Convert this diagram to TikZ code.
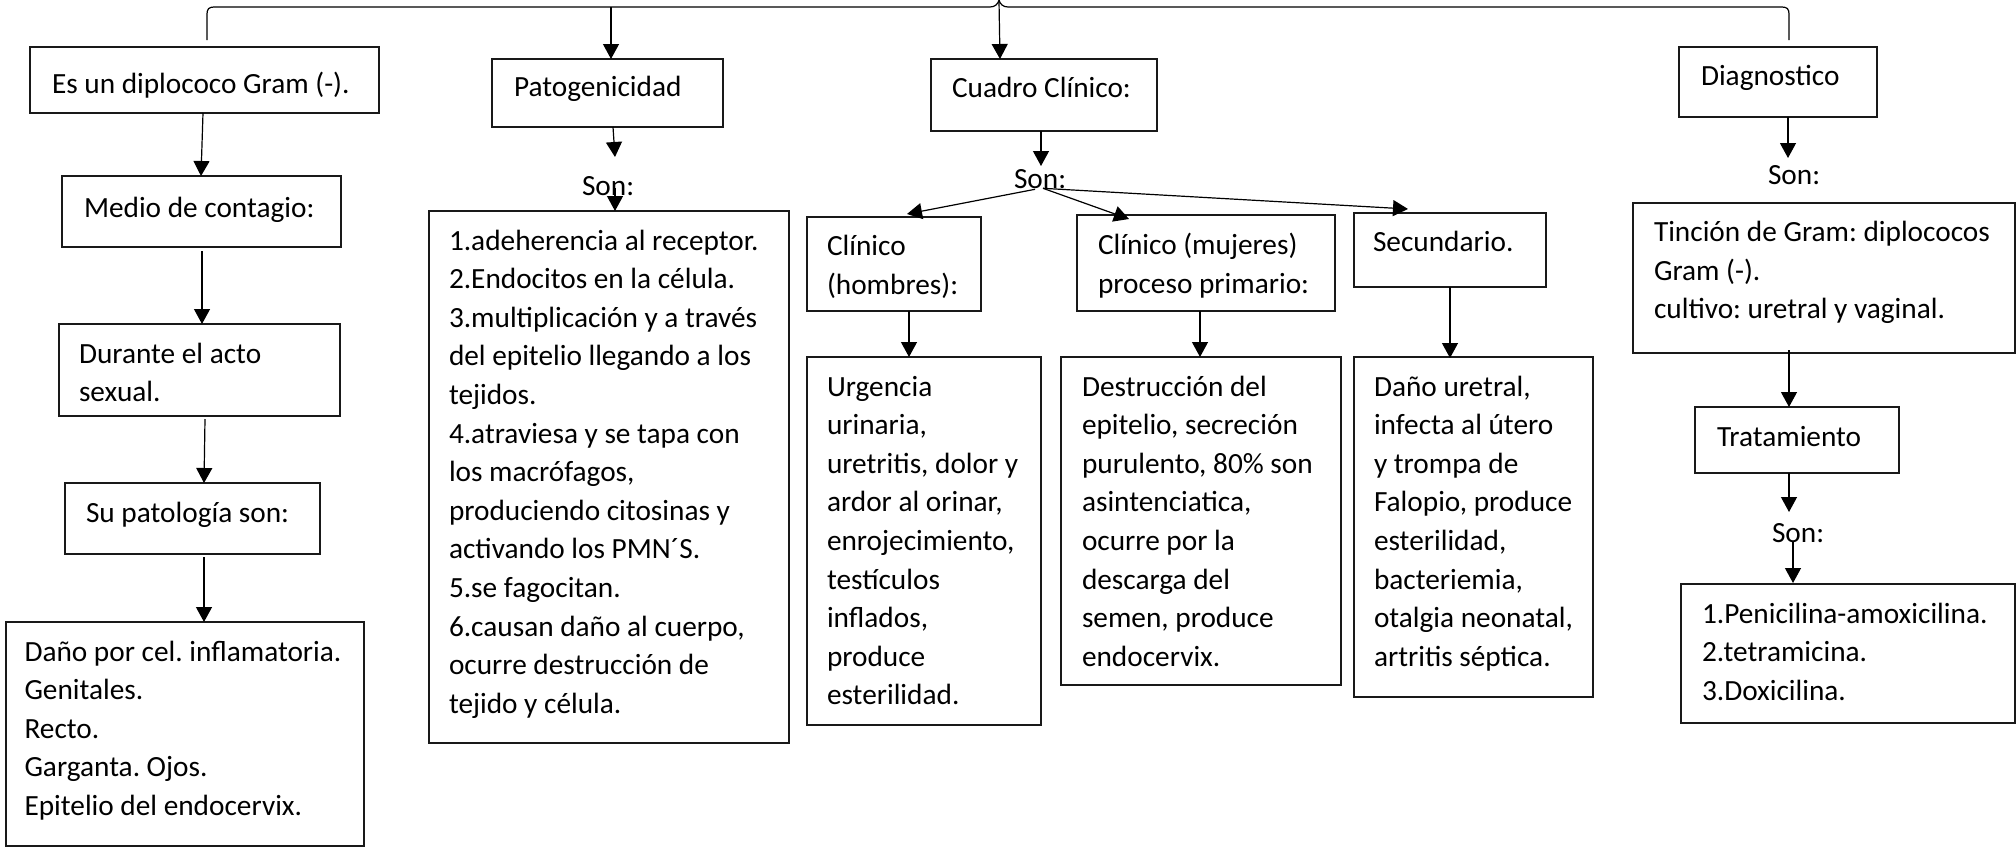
\documentclass[tikz,border=0pt]{standalone}
\usepackage{fontspec}
\setmainfont{Carlito}
\usetikzlibrary{arrows.meta,calc}
\frenchspacing
\newcommand\Lz[1]{\mbox{#1}\par}
% #1 width, #2 height, #3 left inset, #4 first baseline from top, #5 lines
\newcommand\bt[5]{\vbox to #2pt{\hsize=#1pt\leftskip=#3pt\rightskip=0pt plus 1fil\parindent=0pt\parskip=0pt\prevdepth=0pt\vskip\dimexpr #4pt - 38.6pt\relax #5\vfil}}
\tikzset{
  bx/.style={draw=black!90, line width=1.3pt, inner sep=0pt, outer sep=0pt, anchor=north west},
  arr/.style={-{Triangle[length=15pt,width=16pt]}, line width=1.2pt},
  sonlbl/.style={inner sep=0pt, outer sep=0pt, anchor=base west},
}
\begin{document}
\begin{tikzpicture}[x=1pt, y=-1pt, font=\fontsize{29.3}{38.6}\selectfont]
\fill[white] (0,0) rectangle (2016,847);
\useasboundingbox (0,0) rectangle (2016,847);

% brace
\draw[line width=1.2pt] (207,40) -- (207,14) .. controls (207,9) and (209,7) .. (214,7) -- (990,7) .. controls (995,7) and (998,4) .. (999,0) .. controls (1000,4) and (1003,7) .. (1008,7) -- (1782,7) .. controls (1787,7) and (1789,9) .. (1789,14) -- (1789,40);
\coordinate (brP) at (611,7);
\coordinate (brC) at (999,1);

% column 1
\node[bx] (b1) at (30,47) {\bt{349}{66}{22}{46.3}{\Lz{Es un diplococo Gram (-).}}};
\node[bx] (medio) at (62,176) {\bt{279}{71}{22}{41}{\Lz{Medio de contagio:}}};
\node[bx] (durante) at (59,324) {\bt{281}{92}{20}{39}{\Lz{Durante el acto}\Lz{sexual.}}};
\node[bx] (supat) at (65,483) {\bt{255}{71}{21}{39.5}{\Lz{Su patología son:}}};
\node[bx] (dano) at (6,622) {\bt{358}{224}{18.5}{39}{\Lz{Daño por cel. inflamatoria.}\Lz{Genitales.}\Lz{Recto.}\Lz{Garganta. Ojos.}\Lz{Epitelio del endocervix.}}};

% column 2
\node[bx] (pato) at (492,59) {\bt{231}{68}{22}{37.7}{\Lz{Patogenicidad}}};
\node[sonlbl] (son1) at (582,195) {Son:};
\node[bx] (patolist) at (429,211) {\bt{360}{532}{20}{39}{\Lz{1.adeherencia al receptor.}\Lz{2.Endocitos en la célula.}\Lz{3.multiplicación y a través}\Lz{del epitelio llegando a los}\Lz{tejidos.}\Lz{4.atraviesa y se tapa con}\Lz{los macrófagos,}\Lz{produciendo citosinas y}\Lz{activando los PMN´S.}\Lz{5.se fagocitan.}\Lz{6.causan daño al cuerpo,}\Lz{ocurre destrucción de}\Lz{tejido y célula.}}};

% column 3
\node[bx] (cuadro) at (931,59) {\bt{226}{72}{21}{38.7}{\Lz{Cuadro Clínico:}}};
\node[sonlbl] (son2) at (1014,188.3) {Son:};
\node[bx] (hombres) at (807,217) {\bt{174}{94}{20}{38.5}{\Lz{Clínico}\Lz{(hombres):}}};
\node[bx] (urgencia) at (807,357) {\bt{234}{368}{20}{39}{\Lz{Urgencia}\Lz{urinaria,}\Lz{uretritis, dolor y}\Lz{ardor al orinar,}\Lz{enrojecimiento,}\Lz{testículos}\Lz{inflados,}\Lz{produce}\Lz{esterilidad.}}};
\node[bx] (mujeres) at (1077,215) {\bt{258}{96}{21}{39.5}{\Lz{Clínico (mujeres)}\Lz{proceso primario:}}};
\node[bx] (destruccion) at (1061,357) {\bt{280}{328}{21}{39}{\Lz{Destrucción del}\Lz{epitelio, secreción}\Lz{purulento, 80\% son}\Lz{asintenciatica,}\Lz{ocurre por la}\Lz{descarga del}\Lz{semen, produce}\Lz{endocervix.}}};
\node[bx] (secundario) at (1354,213) {\bt{192}{74}{19}{38.7}{\Lz{Secundario.}}};
\node[bx] (danoure) at (1354,357) {\bt{239}{340}{20}{39}{\Lz{Daño uretral,}\Lz{infecta al útero}\Lz{y trompa de}\Lz{Falopio, produce}\Lz{esterilidad,}\Lz{bacteriemia,}\Lz{otalgia neonatal,}\Lz{artritis séptica.}}};

% column 4
\node[bx] (diag) at (1679,47) {\bt{198}{70}{22}{38}{\Lz{Diagnostico}}};
\node[sonlbl] (son3) at (1768,184) {Son:};
\node[bx] (tincion) at (1633,203) {\bt{382}{150}{21}{38.5}{\Lz{Tinción de Gram: diplococos}\Lz{Gram (-).}\Lz{cultivo: uretral y vaginal.}}};
\node[bx] (trat) at (1695,407) {\bt{204}{66}{22}{39}{\Lz{Tratamiento}}};
\node[sonlbl] (son4) at (1772,542.5) {Son:};
\node[bx] (penic) at (1681,584) {\bt{334}{139}{21}{39}{\Lz{1.Penicilina-amoxicilina.}\Lz{2.tetramicina.}\Lz{3.Doxicilina.}}};

% connectors
\draw[arr] (brP) -- ($(pato.north west)+(119,0)$);
\draw[arr] (brC) -- ($(cuadro.north west)+(69,0)$);
\draw[arr] ($(b1.south west)+(173,0)$) -- ($(medio.north west)+(139,0)$);
\draw[arr] ($(medio.south west)+(140,4)$) -- ($(durante.north west)+(143,0)$);
\draw[arr] ($(durante.south west)+(146,3)$) -- ($(supat.north west)+(139,0)$);
\draw[arr] ($(supat.south west)+(139,3)$) -- ($(dano.north west)+(198,0)$);
\draw[arr] ($(pato.south west)+(121,0)$) -- ($(son1.base west)+(33,-38)$);
\draw[arr] ($(son1.base west)+(33,-7)$) -- ($(patolist.north west)+(186,0)$);
\draw[arr] ($(cuadro.south west)+(110,0)$) -- ($(son2.base west)+(27,-22.3)$);
\draw[arr] ($(son2.base west)+(21,1)$) -- ($(hombres.north west)+(100,-3)$);
\draw[arr] ($(son2.base west)+(29,0)$) -- ($(mujeres.north west)+(52,4)$);
\draw[arr] ($(son2.base west)+(29,0)$) -- ($(secundario.north west)+(54,-4)$);
\draw[arr] ($(hombres.south west)+(102,0)$) -- ($(urgencia.north west)+(102,0)$);
\draw[arr] ($(mujeres.south west)+(123,0)$) -- ($(destruccion.north west)+(139,0)$);
\draw[arr] ($(secundario.south west)+(96,0)$) -- ($(danoure.north west)+(96,1)$);
\draw[arr] ($(diag.south west)+(109,0)$) -- ($(son3.base west)+(20,-26)$);
\draw[arr] ($(tincion.south west)+(156,-3)$) -- ($(trat.north west)+(94,0)$);
\draw[arr] ($(trat.south west)+(94,0)$) -- ($(son4.base west)+(17,-30.5)$);
\draw[arr] ($(son4.base west)+(21,-0.5)$) -- ($(penic.north west)+(112,-1)$);
\end{tikzpicture}
\end{document}
